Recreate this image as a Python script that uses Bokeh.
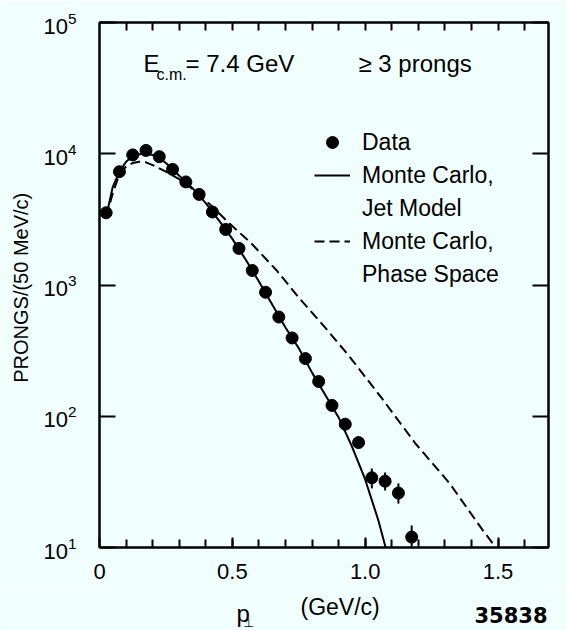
from bokeh.plotting import figure
from bokeh.layouts import column
from bokeh.models import (LogAxis, LinearAxis, FixedTicker, Label, Legend,
                          LegendItem, Range1d, CustomLabelingPolicy)
from bokeh.embed import file_html
from bokeh.resources import INLINE

# ---------------- data ----------------
pt_bins = [0.025, 0.075, 0.125, 0.175, 0.225, 0.275, 0.325, 0.375,
           0.425, 0.475, 0.525, 0.575, 0.625, 0.675, 0.725, 0.775,
           0.825, 0.875, 0.925, 0.975, 1.025, 1.075, 1.125, 1.175]
data_counts = [3550, 7300, 9800, 10600, 9500, 7600, 6100, 4900,
               3600, 2650, 1900, 1290, 880, 570, 395, 275,
               184, 121, 87, 63, 34, 32, 26, 12]

err_pt = [0.975, 1.025, 1.075, 1.125, 1.175]
err_low = [58, 28.2, 27.2, 21.6, 9.3]
err_high = [68, 40, 37.3, 30.8, 14.7]

jet_pt = [0.025, 0.05, 0.075, 0.1, 0.125, 0.15, 0.175, 0.2, 0.225, 0.25,
          0.3, 0.35, 0.4, 0.45, 0.5, 0.55, 0.6, 0.65, 0.7, 0.75, 0.8,
          0.85, 0.9, 0.95, 1.0, 1.05, 1.077]
jet_counts = [3300, 5600, 7300, 8700, 9600, 9900, 10000, 9800, 9300, 8500,
              6800, 5470, 4200, 3090, 2245, 1565, 1065, 710, 475, 330, 215,
              145, 98, 59, 33, 16, 10]

ps_pt = [0.025, 0.05, 0.075, 0.1, 0.125, 0.15, 0.175, 0.2, 0.25, 0.3,
         0.35, 0.42, 0.484, 0.572, 0.667, 0.749, 0.848, 0.938, 1.064,
         1.189, 1.318, 1.443, 1.492]
ps_counts = [3300, 5000, 7000, 8000, 8500, 8700, 8600, 8200, 7300, 6400,
             5400, 4040, 3010, 2070, 1290, 807, 477, 290, 136,
             62, 30.8, 13.5, 10]

x_ticks = [0, 0.5, 1.0, 1.5]
x_tick_labels = ["0", "0.5", "1.0", "1.5"]
x_minor_ticks = [0.1, 0.2, 0.3, 0.4, 0.5, 0.6, 0.7, 0.8, 0.9, 1.0,
                 1.1, 1.2, 1.3, 1.4, 1.5, 1.6]
y_ticks = [10, 100, 1000, 10000, 100000]

legend_labels = ["Data", "Monte Carlo,", "Jet Model", "Monte Carlo,", "Phase Space"]

# ---------------- styling ----------------
BG = "#f0fefe"
FONT = "Liberation Sans"
INK = "black"

p = figure(width=567, height=590, y_axis_type="log",
           x_range=Range1d(0, 1.69), y_range=Range1d(10, 1e5),
           output_backend="svg", toolbar_location=None,
           min_border_left=99, min_border_right=19,
           min_border_top=22, min_border_bottom=43,
           background_fill_color=BG, border_fill_color=BG,
           outline_line_color=INK, outline_line_width=2)
p.grid.visible = False

# bottom axis
xa = p.xaxis[0]
xa.ticker = FixedTicker(ticks=x_ticks, minor_ticks=x_minor_ticks)
xa.major_label_overrides = dict(zip(x_ticks, x_tick_labels))
xa.major_tick_in = 10
xa.major_tick_out = 0
xa.minor_tick_in = 8
xa.minor_tick_out = 0
xa.major_label_standoff = 16
xa.major_label_text_font = FONT
xa.major_label_text_font_size = "22px"
xa.major_label_text_color = INK
xa.axis_line_width = 2
xa.major_tick_line_width = 2
xa.minor_tick_line_width = 2

# left axis
ya = p.yaxis[0]
ya.ticker = FixedTicker(ticks=y_ticks, minor_ticks=[])
ya.major_tick_in = 16
ya.major_tick_out = 0
ya.major_label_standoff = 23
ya.major_label_text_font = FONT
ya.major_label_text_font_size = "22px"
ya.major_label_text_color = INK
ya.axis_line_width = 2
ya.major_tick_line_width = 2
ya.axis_label = "PRONGS/(50  MeV/c)"
ya.axis_label_text_font = FONT
ya.axis_label_text_font_size = "20px"
ya.axis_label_text_font_style = "normal"
ya.axis_label_text_color = INK
ya.axis_label_standoff = 8

# ticks-only frames on top and right: a labeling policy that keeps no label
no_labels = """
const ids = Array.from(indices)
for (const i of ids) { indices.unset(i) }
return indices
"""

top = LinearAxis(ticker=FixedTicker(ticks=x_minor_ticks, minor_ticks=[]),
                 major_tick_in=8, major_tick_out=0, major_tick_line_width=2,
                 axis_line_width=2, major_label_text_font_size="1px",
                 major_label_standoff=0,
                 major_label_policy=CustomLabelingPolicy(code=no_labels))
p.add_layout(top, "above")

right = LogAxis(ticker=FixedTicker(ticks=y_ticks, minor_ticks=[]),
                major_tick_in=16, major_tick_out=0, major_tick_line_width=2,
                axis_line_width=2, major_label_text_font_size="1px",
                major_label_standoff=0,
                major_label_policy=CustomLabelingPolicy(code=no_labels))
p.add_layout(right, "right")

# ---------------- glyphs ----------------
r_ps = p.line(ps_pt, ps_counts, line_color=INK, line_width=2, line_dash="10 5")
r_jet = p.line(jet_pt, jet_counts, line_color=INK, line_width=2)
p.segment(x0=err_pt, y0=err_low, x1=err_pt, y1=err_high,
          line_color=INK, line_width=2)
r_data = p.scatter(pt_bins, data_counts, size=12, color=INK)
r_blank1 = p.line([0], [10], line_alpha=0)
r_blank2 = p.line([0], [10], line_alpha=0)

legend = Legend(items=[
    LegendItem(label=legend_labels[0], renderers=[r_data]),
    LegendItem(label=legend_labels[1], renderers=[r_jet]),
    LegendItem(label=legend_labels[2], renderers=[r_blank1]),
    LegendItem(label=legend_labels[3], renderers=[r_ps]),
    LegendItem(label=legend_labels[4], renderers=[r_blank2]),
], location=(215, 258), padding=0, margin=0, spacing=3,
   label_height=30, glyph_height=30, glyph_width=36, label_standoff=12,
   label_text_font=FONT, label_text_font_size="23px", label_text_color=INK,
   background_fill_alpha=0, border_line_alpha=0)
p.add_layout(legend)

# ---------------- text annotations ----------------
def lab(fig, text, x, y, xo, yo, size, align="left", baseline="middle",
        font=FONT, style="normal"):
    fig.add_layout(Label(x=x, y=y, x_offset=xo, y_offset=yo, text=text,
                         text_font=font, text_font_size=size,
                         text_font_style=style, text_color=INK,
                         text_align=align, text_baseline=baseline))

x0, ytop = 0, 1e5
lab(p, "E", x0, ytop, 44, -41, "24px")
lab(p, "c.m.", x0, ytop, 57, -52, "16px")
lab(p, "= 7.4 GeV", x0, ytop, 86, -41, "24px")
lab(p, "\u2265 3 prongs", x0, ytop, 259, -41, "24px")

# strip under the plot for the x-axis title and the figure number.
# Its frame is aligned with the plot frame (page x 99..548), so its ranges
# are page pixels and the labels sit where the original has them.
strip = figure(width=567, height=40, x_range=Range1d(99, 548),
               y_range=Range1d(630, 590), x_axis_type=None, y_axis_type=None,
               output_backend="svg", toolbar_location=None,
               min_border=0, outline_line_color=None,
               background_fill_color=BG, border_fill_color=BG)
strip.grid.visible = False

lab(strip, "p", 236, 613, 0, 0, "24px", baseline="alphabetic")
lab(strip, "\u22a5", 243, 622, 0, 0, "12px", baseline="alphabetic",
    font="DejaVu Sans")
lab(strip, "(GeV/c)", 300, 606, 0, 0, "23px")
lab(strip, "35838", 547, 614, 0, 0, "21px", align="right",
    font="DejaVu Sans", style="bold")

page = column(p, strip, spacing=0)
open("out.html", "w").write(file_html(page, INLINE))
